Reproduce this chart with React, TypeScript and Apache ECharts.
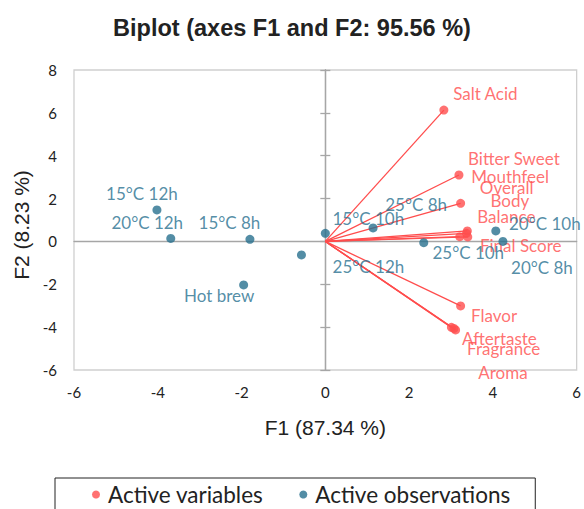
import React, { useEffect, useRef } from "react";
import * as echarts from "echarts";

// ---- data ----
const obsNames = ["15°C 12h", "20°C 12h", "15°C 8h", "Hot brew", "25°C 12h", "15°C 10h", "25°C 8h", "25°C 10h", "20°C 10h", "20°C 8h"];
const obsF1 = [-4.02, -3.69, -1.8, -1.95, -0.57, 0.0, 1.14, 2.35, 4.07, 4.24];
const obsF2 = [1.47, 0.14, 0.1, -2.03, -0.63, 0.38, 0.63, -0.06, 0.49, 0.0];

const varNames = ["Salt Acid", "Bitter Sweet", "Mouthfeel", "Overall", "Body", "Balance", "Final Score", "Flavor", "Aftertaste", "Fragrance", "Aroma"];
const varF1 = [2.83, 3.19, 3.23, 3.39, 3.37, 3.21, 3.4, 3.23, 3.01, 3.11, 3.07];
const varF2 = [6.13, 3.1, 1.78, 0.49, 0.38, 0.22, 0.21, -3.01, -4.01, -4.13, -4.06];

const xTicks = { min: -6, max: 6, interval: 2 };
const yTicks = { min: -6, max: 8, interval: 2 };

// ---- label placement (pixel offsets of label centre from the point) ----
const obsLabelOffsets: [number, number][] = [
  [-15, -16], [-23.5, -15.6], [-20.5, -16.6], [-24.5, 11], [67, 12],
  [43, -15], [43, -23], [44.5, 10], [49, -7], [39, 26],
];
const varLabelOffsets: [number, number][] = [
  [41.5, -17], [55, -17], [49.5, -27], [39.3, -43], [43.3, -33],
  [46.5, -20.7], [53, 9], [33.5, 10], [48, 11], [48, 19], [49, 44.5],
];

const RED = "#ff4d4d";
const BLUE = "#28708f";
const LABEL_FONT = "Lato";

export default function App() {
  const ref = useRef<HTMLDivElement>(null);
  useEffect(() => {
    if (!ref.current) return;
    const chart = echarts.init(ref.current, undefined, { renderer: "svg" });
    const zeroAxisLine = { show: true, onZero: true, onZeroAxisIndex: 0, lineStyle: { color: "#a6a6a6", width: 1.3 } };
    chart.setOption({
      animation: false,
      backgroundColor: "#ffffff",
      title: {
        text: "Biplot (axes F1 and F2: 95.56 %)",
        left: "center",
        top: 11,
        textStyle: { fontFamily: "Liberation Sans", fontWeight: "bold", fontSize: 23.5, color: "#222" },
      },
      grid: { left: 74, right: 7, top: 70, bottom: 139, show: true, borderColor: "#cfcfcf", borderWidth: 1.3 },
      xAxis: [
        {
          type: "value", ...xTicks, position: "bottom",
          axisLine: { show: false, onZero: false }, axisTick: { show: false }, splitLine: { show: false },
          axisLabel: { margin: 14, fontSize: 15, color: "#222", fontFamily: LABEL_FONT },
          name: "F1 (87.34 %)", nameLocation: "middle", nameGap: 47,
          nameTextStyle: { fontFamily: "Liberation Sans", fontSize: 21, color: "#222" },
        },
        {
          type: "value", ...xTicks, position: "bottom",
          axisLine: zeroAxisLine, axisTick: { show: false }, splitLine: { show: false }, axisLabel: { show: false },
        },
      ],
      yAxis: [
        {
          type: "value", ...yTicks, position: "left",
          axisLine: { show: false, onZero: false }, axisTick: { show: false }, splitLine: { show: false },
          axisLabel: { margin: 17, fontSize: 15, color: "#222", fontFamily: LABEL_FONT },
          name: "F2 (8.23 %)", nameLocation: "middle", nameGap: 38,
          nameTextStyle: { fontFamily: "Liberation Sans", fontSize: 21, color: "#222", padding: [0, 10, 0, 0] },
        },
        {
          type: "value", ...yTicks, position: "left",
          axisLine: zeroAxisLine, axisTick: { show: true, length: 5, lineStyle: { color: "#a6a6a6", width: 1.3 } },
          splitLine: { show: false }, axisLabel: { show: false },
        },
        {
          type: "value", ...yTicks, position: "left",
          axisLine: zeroAxisLine, axisTick: { show: true, inside: true, length: 5, lineStyle: { color: "#a6a6a6", width: 1.3 } },
          splitLine: { show: false }, axisLabel: { show: false },
        },
      ],
      legend: {
        data: ["Active variables", "Active observations"],
        left: 55,
        top: 478,
        padding: [5, 25, 20, 37],
        borderColor: "#222",
        borderWidth: 1,
        icon: "circle",
        itemWidth: 8,
        itemHeight: 8,
        itemGap: 36,
        textStyle: { fontFamily: LABEL_FONT, fontSize: 22.5, color: "#222", padding: [0, 0, 0, 3] },
      },
      series: [
        {
          name: "vectors",
          type: "lines",
          coordinateSystem: "cartesian2d",
          xAxisIndex: 0,
          yAxisIndex: 0,
          silent: true,
          lineStyle: { color: RED, width: 1.3, opacity: 1 },
          data: varF1.map((x, i) => ({ coords: [[0, 0], [x, varF2[i]]] })),
          z: 2,
        },
        {
          name: "Active variables",
          type: "scatter",
          xAxisIndex: 0,
          yAxisIndex: 0,
          symbolSize: 9,
          itemStyle: { color: RED },
          z: 3,
          data: varF1.map((x, i) => ({
            value: [x, varF2[i]],
            name: varNames[i],
            label: { offset: varLabelOffsets[i] },
          })),
          label: {
            show: true, position: "inside", formatter: "{b}",
            color: RED, fontFamily: LABEL_FONT, fontSize: 17,
          },
        },
        {
          name: "Active observations",
          type: "scatter",
          xAxisIndex: 0,
          yAxisIndex: 0,
          symbolSize: 9,
          itemStyle: { color: BLUE },
          z: 4,
          data: obsF1.map((x, i) => ({
            value: [x, obsF2[i]],
            name: obsNames[i],
            label: { offset: obsLabelOffsets[i] },
          })),
          label: {
            show: true, position: "inside", formatter: "{b}",
            color: BLUE, fontFamily: LABEL_FONT, fontSize: 17,
          },
        },
      ],
    });
    return () => chart.dispose();
  }, []);
  return <div ref={ref} style={{ position: "fixed", left: 0, top: 0, width: 584, height: 509 }} />;
}
